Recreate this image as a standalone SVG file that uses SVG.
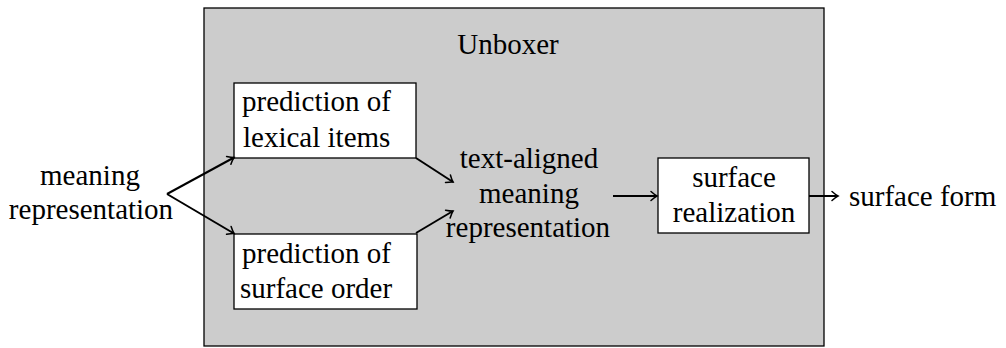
<svg xmlns="http://www.w3.org/2000/svg" width="1006" height="348" viewBox="0 0 1006 348">
<style>
text{font-family:"Liberation Serif","Times New Roman",serif;font-size:29px;fill:#000}
.c{text-anchor:middle}
.box{fill:#fff;stroke:#000;stroke-width:1.3}
.edge{fill:none;stroke:#000;stroke-width:2}
</style>
<defs>
<marker id="ah" viewBox="-10 -6 12 12" markerWidth="12" markerHeight="12" refX="0" refY="0" orient="auto" markerUnits="userSpaceOnUse">
<path d="M-6,-4.5 Q-2,-1 0,0 Q-2,1 -6,4.5" fill="none" stroke="#000" stroke-width="1.5" stroke-linecap="round"/>
</marker>
</defs>
<rect x="0" y="0" width="1006" height="348" fill="#fff"/>
<g id="unboxer">
<rect x="204" y="8" width="620" height="338" fill="#cccccc" stroke="#000" stroke-width="1.3"/>
<text class="c" x="508" y="54">Unboxer</text>
</g>
<g id="input">
<text class="c" x="90" y="185">meaning</text>
<text class="c" x="91" y="219">representation</text>
</g>
<g id="lexical">
<rect class="box" x="234" y="83" width="182" height="75"/>
<text x="242" y="111">prediction of</text>
<text x="243" y="147">lexical items</text>
</g>
<g id="order">
<rect class="box" x="234" y="234" width="183" height="75"/>
<text x="242" y="263">prediction of</text>
<text x="240" y="298">surface order</text>
</g>
<g id="aligned">
<text class="c" x="529" y="168">text-aligned</text>
<text class="c" x="529" y="203">meaning</text>
<text class="c" x="528" y="237">representation</text>
</g>
<g id="realization">
<rect class="box" x="658" y="158" width="151" height="75"/>
<text class="c" x="734" y="187">surface</text>
<text class="c" x="734" y="222">realization</text>
</g>
<g id="output">
<text x="849" y="206">surface form</text>
</g>
<g id="connectors">
<path class="edge" d="M167,194 L234,157.5" marker-end="url(#ah)"/>
<path class="edge" d="M167,194 L234,233.5" marker-end="url(#ah)"/>
<path class="edge" d="M416,158 L453,182" marker-end="url(#ah)"/>
<path class="edge" d="M416,233 L453,211" marker-end="url(#ah)"/>
<path class="edge" d="M613,196 L657,196" marker-end="url(#ah)"/>
<path class="edge" d="M809,196 L838,196" marker-end="url(#ah)"/>
</g>
</svg>
